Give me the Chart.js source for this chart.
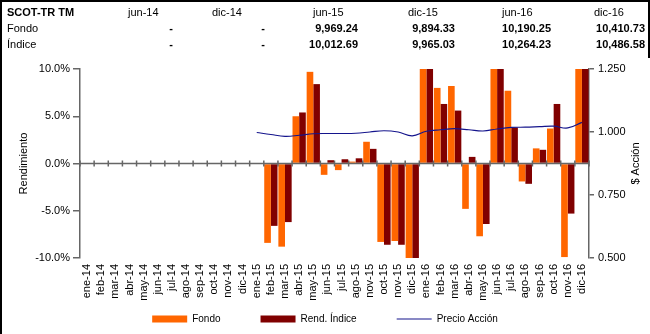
<!DOCTYPE html>
<html>
<head>
<meta charset="utf-8">
<script src="https://cdn.jsdelivr.net/npm/chart.js@4.4.1/dist/chart.umd.min.js"></script>
<style>
  html, body { margin: 0; padding: 0; background: #fff; }
  #wrap { position: relative; width: 650px; height: 334px; overflow: hidden;
          font-family: "Liberation Sans", Arial, sans-serif; }
  #chart { position: absolute; left: 0; top: 0; }
  #frame { position: absolute; left: 0; top: 0; width: 646px; height: 56px;
           border-top: 2px solid #000; border-left: 2px solid #000; border-right: 2px solid #000; }
  #leftline { position: absolute; left: 0; top: 0; width: 2px; height: 334px; background: #000; }
  .t { position: absolute; font-size: 11px; line-height: 13px; white-space: nowrap; color: #000; }
  .b { font-weight: bold; }
</style>
</head>
<body>
<div id="wrap">
  <canvas id="chart" width="650" height="334"></canvas>
  <div id="frame"></div>
  <div id="leftline"></div>
  <div id="head"></div>
</div>
<script>
// Monthly categories (as labelled on the axis)
const months = ['ene-14','feb-14','mar-14','abr-14','may-14','jun-14','jul-14','ago-14','sep-14','oct-14','nov-14','dic-14',
                'ene-15','feb-15','mar-15','abr-15','may-15','jun-15','jul-15','ago-15','nov-15','oct-15','nov-15','dic-15',
                'ene-16','feb-16','mar-16','abr-16','may-16','jun-16','jul-16','ago-16','sep-16','oct-16','nov-16','dic-16'];

// Monthly return of the fund (%)
const fondo = [null,null,null,null,null,null,null,null,null,null,null,null,
               null,-8.4,-8.8,5.0,9.7,-1.2,-0.7,0.2,2.3,-8.3,-8.2,-11.0,
               11.5,8.0,8.2,-4.8,-7.7,11.0,7.7,-1.9,1.6,3.7,-9.9,12.0];

// Monthly return of the benchmark index (%)
const indice = [null,null,null,null,null,null,null,null,null,null,null,null,
                null,-6.6,-6.2,5.4,8.4,0.35,0.45,0.55,1.55,-8.6,-8.6,-11.5,
                12.0,6.3,5.6,0.7,-6.4,11.5,3.8,-2.15,1.45,6.3,-5.3,12.5];

// Share price
const precio = [null,null,null,null,null,null,null,null,null,null,null,null,
                0.998,0.990,0.983,0.987,0.993,0.994,0.994,0.995,1.000,1.005,1.000,0.985,
                1.003,1.009,1.013,1.009,1.004,1.012,1.018,1.019,1.021,1.023,1.016,1.038];

// Summary table above the chart
const headTitle = 'SCOT-TR TM';
const headPeriods = ['jun-14','dic-14','jun-15','dic-15','jun-16','dic-16'];
const headFondo = ['-','-','9,969.24','9,894.33','10,190.25','10,410.73'];
const headIndice = ['-','-','10,012.69','9,965.03','10,264.23','10,486.58'];

// Table layout
const periodLeft = [128, 212, 313, 408, 502, 594];
const valueRight = [173, 265, 358, 455, 551, 645];
const rowTop = [6, 22, 38];

(function buildHead() {
  const head = document.getElementById('head');
  const add = (txt, cls, css) => {
    const d = document.createElement('div');
    d.className = 't ' + cls;
    d.textContent = txt;
    Object.assign(d.style, css);
    head.appendChild(d);
  };
  add(headTitle, 'b', { left: '7px', top: rowTop[0] + 'px' });
  add('Fondo', '', { left: '7px', top: rowTop[1] + 'px' });
  add('Índice', '', { left: '7px', top: rowTop[2] + 'px' });
  headPeriods.forEach((p, i) => add(p, '', { left: periodLeft[i] + 'px', top: rowTop[0] + 'px' }));
  headFondo.forEach((v, i) => add(v, 'b', { left: (valueRight[i] - 100) + 'px', width: '100px', textAlign: 'right', top: rowTop[1] + 'px' }));
  headIndice.forEach((v, i) => add(v, 'b', { left: (valueRight[i] - 100) + 'px', width: '100px', textAlign: 'right', top: rowTop[2] + 'px' }));
})();

const FONT = '"Liberation Sans", Arial, sans-serif';
const AXIS = '#666666';

// Zero line with category tick marks, plus axis titles
const decor = {
  id: 'decor',
  afterDatasetsDraw(chart) {
    const { ctx, scales: { x, y } } = chart;
    const y0 = y.getPixelForValue(0);
    ctx.save();
    ctx.strokeStyle = AXIS;
    ctx.lineWidth = 1.5;
    ctx.beginPath();
    ctx.moveTo(x.left, y0);
    ctx.lineTo(x.right, y0);
    for (let i = 0; i <= months.length; i++) {
      const px = x.getPixelForValue(i - 0.5);
      ctx.moveTo(px, y0 - 3);
      ctx.lineTo(px, y0 + 3);
    }
    ctx.stroke();
    ctx.restore();
  },
  afterDraw(chart) {
    const { ctx, chartArea } = chart;
    const cy = (chartArea.top + chartArea.bottom) / 2;
    const title = (txt, cx) => {
      ctx.save();
      ctx.fillStyle = '#000';
      ctx.font = '11px ' + FONT;
      ctx.textAlign = 'center';
      ctx.textBaseline = 'middle';
      ctx.translate(cx, cy);
      ctx.rotate(-Math.PI / 2);
      ctx.fillText(txt, 0, 0);
      ctx.restore();
    };
    title('Rendimiento', 24);
    title('$ Acción', 636);
  }
};

new Chart(document.getElementById('chart'), {
  data: {
    labels: months,
    datasets: [
      { type: 'bar', label: 'Fondo', data: fondo, backgroundColor: '#FF6600', borderWidth: 0,
        yAxisID: 'y', order: 2, categoryPercentage: 0.94, barPercentage: 1.0 },
      { type: 'bar', label: 'Rend. Índice', data: indice, backgroundColor: '#800000', borderWidth: 0,
        yAxisID: 'y', order: 2, categoryPercentage: 0.94, barPercentage: 1.0 },
      { type: 'line', label: 'Precio Acción', data: precio, borderColor: '#14148c', backgroundColor: '#14148c',
        borderWidth: 1.2, pointRadius: 0, tension: 0.4, fill: false, yAxisID: 'y2', order: 1 }
    ]
  },
  options: {
    responsive: false,
    animation: false,
    devicePixelRatio: 1,
    layout: { padding: { top: 69, left: 0, right: 0, bottom: 0 } },
    plugins: {
      tooltip: { enabled: false },
      legend: {
        position: 'bottom',
        labels: {
          font: { family: FONT, size: 10 },
          color: '#000',
          usePointStyle: true,
          pointStyleWidth: 35,
          boxHeight: 7,
          padding: 40,
          sort: (a, b) => a.datasetIndex - b.datasetIndex,
          generateLabels(chart) {
            const items = Chart.defaults.plugins.legend.labels.generateLabels(chart);
            return items.map(it => {
              const ds = chart.data.datasets[it.datasetIndex];
              if (ds.type === 'line') {
                it.pointStyle = 'line';
                it.strokeStyle = ds.borderColor;
                it.lineWidth = 1.2;
              } else {
                it.pointStyle = 'rect';
                it.lineWidth = 0;
              }
              return it;
            });
          }
        }
      }
    },
    scales: {
      x: {
        grid: { display: false, drawTicks: false },
        border: { display: false },
        ticks: { minRotation: 90, maxRotation: 90, autoSkip: false, padding: 6,
                 font: { family: FONT, size: 11 }, color: '#000' },
        afterFit(s) {
          // keep the band slim; the rotated month labels hang into the space above the legend
          s.height = 16;
          s._computeLabelArea = () => undefined;
        }
      },
      y: {
        position: 'left', min: -10, max: 10,
        ticks: { stepSize: 5, padding: 3, callback: v => v.toFixed(1) + '%',
                 font: { family: FONT, size: 11 }, color: '#000' },
        grid: { drawOnChartArea: false, tickLength: 7, color: AXIS, lineWidth: 1.5 },
        border: { color: AXIS, width: 1.5 },
        afterFit(s) { s.width = 80; }
      },
      y2: {
        position: 'right', min: 0.5, max: 1.25,
        ticks: { stepSize: 0.25, padding: 4, callback: v => v.toFixed(3),
                 font: { family: FONT, size: 11 }, color: '#000' },
        grid: { drawOnChartArea: false, tickLength: 5, color: AXIS, lineWidth: 1.5 },
        border: { color: AXIS, width: 1.5 },
        afterFit(s) { s.width = 61; }
      }
    }
  },
  plugins: [decor]
});
</script>
</body>
</html>
